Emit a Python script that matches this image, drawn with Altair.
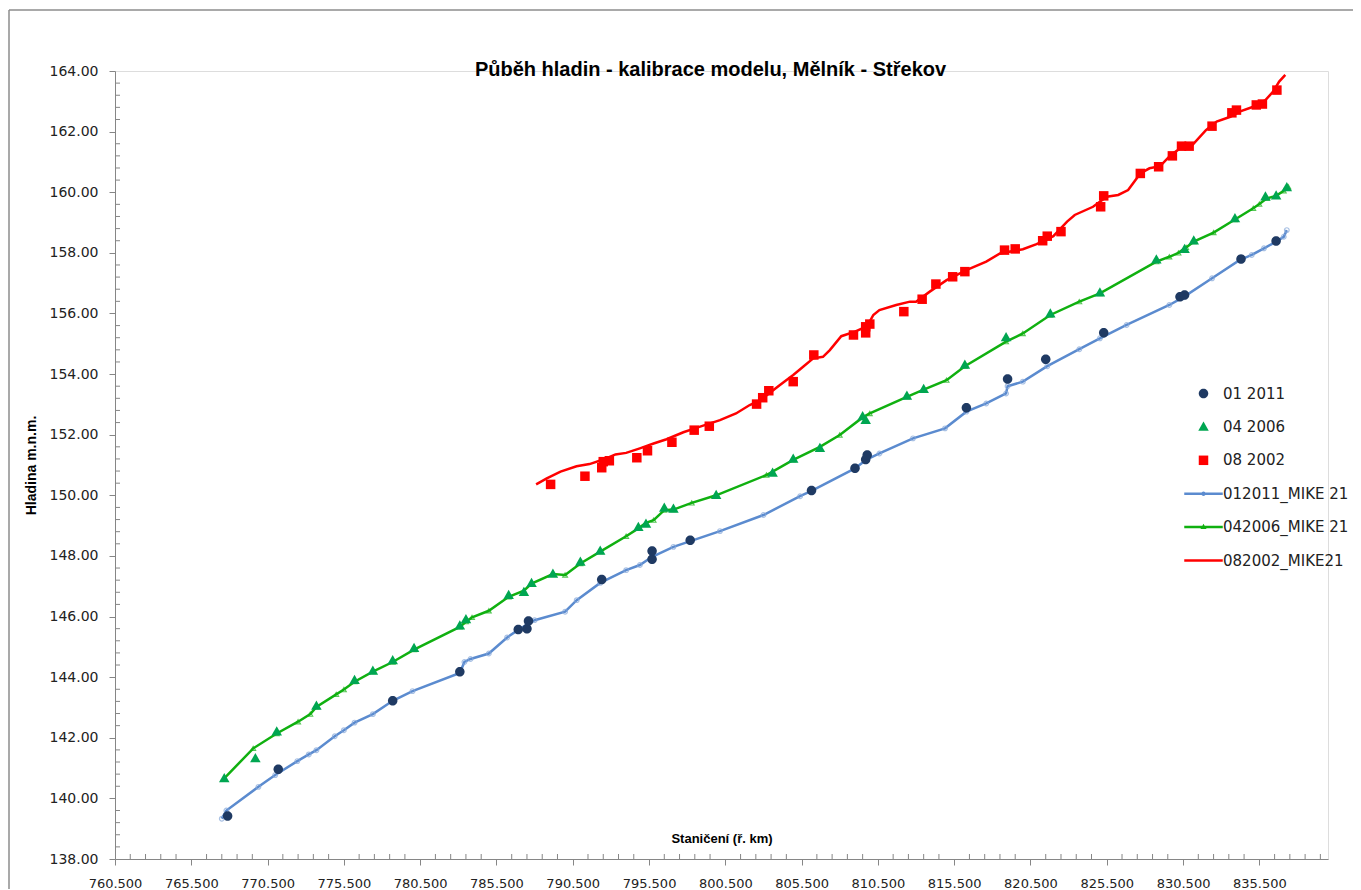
import altair as alt
import pandas as pd

# ---------------- data ----------------
series_names = ["01 2011", "04 2006", "08 2002", "012011_MIKE 21", "042006_MIKE 21", "082002_MIKE21"]
series_colors = ["#1F3A63", "#00A651", "#FF0000", "#5B8BCF", "#10B010", "#FF0000"]

# model 012011_MIKE 21
blue_km = [767.5, 767.8, 769.9, 771.0, 772.45, 773.2, 773.7, 774.9, 775.5, 776.2, 777.4, 778.7, 780.0,
           783.1, 783.4, 783.8, 785.0, 786.2, 786.9, 788.0, 790.0, 790.76, 792.3, 794.0, 794.9, 795.7,
           797.1, 800.15, 803.0, 805.4, 806.15, 809.0, 809.76, 810.6, 812.8, 814.9, 816.3, 817.6, 818.9,
           819.0, 820.0, 821.6, 823.7, 825.05, 826.8, 829.6, 830.5, 832.4, 834.2, 835.0, 835.8, 836.6,
           837.1, 837.3]
blue_h = [139.33, 139.6, 140.38, 140.77, 141.23, 141.45, 141.59, 142.05, 142.25, 142.5, 142.78, 143.22, 143.54,
          144.14, 144.5, 144.6, 144.78, 145.31, 145.55, 145.88, 146.16, 146.54, 147.11, 147.53, 147.7, 147.97,
          148.3, 148.82, 149.35, 149.97, 150.15, 150.89, 151.18, 151.38, 151.88, 152.21, 152.76, 153.03, 153.36,
          153.6, 153.75, 154.26, 154.82, 155.18, 155.62, 156.28, 156.53, 157.16, 157.76, 157.93, 158.15, 158.37,
          158.53, 158.75]

# model 042006_MIKE 21
green_km = [767.66, 769.56, 771.1, 772.5, 773.3, 773.7, 775.0, 775.5, 776.2, 777.4, 778.7, 780.1, 783.1,
            783.5, 783.9, 785.0, 786.3, 787.3, 787.8, 789.2, 790.0, 791.0, 792.3, 794.0, 794.8, 795.3, 795.8,
            796.5, 797.1, 798.3, 799.9, 803.2, 804.95, 806.7, 808.0, 809.5, 809.97, 812.4, 813.5, 815.0, 816.2,
            818.9, 820.0, 821.8, 823.7, 825.05, 828.75, 829.6, 830.2, 830.7, 831.2, 832.5, 833.9, 835.1, 835.5,
            836.0, 836.6, 837.1, 837.4]
green_h = [140.66, 141.65, 142.14, 142.53, 142.78, 143.02, 143.43, 143.59, 143.85, 144.18, 144.5, 144.91, 145.66,
           145.83, 145.97, 146.19, 146.65, 146.85, 147.09, 147.4, 147.37, 147.75, 148.14, 148.65, 148.91, 149.09, 149.18,
           149.51, 149.53, 149.75, 150.0, 150.67, 151.17, 151.6, 151.99, 152.57, 152.7, 153.25, 153.49, 153.8, 154.26,
           155.07, 155.34, 155.95, 156.39, 156.66, 157.71, 157.87, 158.0, 158.18, 158.37, 158.67, 159.1, 159.47, 159.61,
           159.8, 159.88, 160.05, 160.18]

# model 082002_MIKE21
red_km = [788.1, 788.8, 789.7, 790.75, 791.6, 792.5, 793.3, 794.0, 794.9, 795.8, 796.65, 797.75, 798.8, 800.15,
          801.2, 802.1, 802.8, 804.08, 804.95, 805.6, 806.26, 806.9, 807.35, 808.1, 809.0, 809.8, 810.2, 810.6,
          811.7, 812.6, 813.0, 813.9, 815.0, 816.3, 817.6, 818.5, 820.0, 820.9, 822.0, 822.9, 823.4, 824.6, 825.5,
          826.25, 826.9, 827.7, 828.3, 829.0, 829.7, 830.4, 831.05, 832.0, 832.7, 833.6, 834.2, 835.1, 835.9,
          836.4, 836.8, 837.2]
red_h = [150.36, 150.56, 150.78, 150.96, 151.03, 151.18, 151.35, 151.4, 151.55, 151.71, 151.85, 152.08, 152.26, 152.48,
         152.7, 152.98, 153.14, 153.64, 153.97, 154.24, 154.52, 154.57, 154.79, 155.25, 155.4, 155.58, 155.95, 156.11,
         156.28, 156.39, 156.39, 156.72, 157.1, 157.43, 157.71, 157.98, 158.12, 158.29, 158.55, 159.03, 159.25, 159.52,
         159.85, 159.91, 160.07, 160.62, 160.79, 160.86, 161.23, 161.48, 161.52, 162.05, 162.33, 162.49, 162.66, 162.82,
         163.04, 163.32, 163.65, 163.87]

# observed 01 2011
obs2011_km = [767.88, 771.2, 778.7, 783.1, 786.93, 787.5, 787.6, 792.4, 795.7, 795.7, 798.2, 806.15, 809.0,
              809.7, 809.8, 816.3, 819.0, 821.5, 825.3, 830.3, 830.6, 834.3, 836.6]
obs2011_h = [139.42, 140.96, 143.22, 144.18, 145.57, 145.6, 145.85, 147.22, 147.89, 148.16, 148.52, 150.16, 150.89,
             151.18, 151.33, 152.89, 153.84, 154.49, 155.36, 156.55, 156.61, 157.8, 158.39]

# observed 04 2006
obs2006_km = [767.66, 769.7, 771.1, 773.7, 776.2, 777.4, 778.7, 780.1, 783.1, 783.5, 786.3, 787.3, 787.8, 789.2,
              791.0, 792.3, 794.8, 795.3, 796.5, 797.1, 799.9, 803.6, 804.95, 806.7, 809.5, 809.7, 812.4, 813.5,
              816.2, 818.9, 821.8, 825.05, 828.75, 830.6, 831.2, 833.9, 835.9, 836.6, 837.3]
obs2006_h = [140.66, 141.32, 142.2, 143.05, 143.9, 144.2, 144.55, 144.95, 145.7, 145.9, 146.7, 146.8, 147.1, 147.4,
             147.8, 148.16, 148.95, 149.05, 149.58, 149.55, 150.0, 150.74, 151.2, 151.55, 152.6, 152.48, 153.28, 153.5,
             154.3, 155.21, 155.99, 156.68, 157.77, 158.12, 158.4, 159.13, 159.85, 159.88, 160.16]

# observed 08 2002
obs2002_km = [789.05, 791.3, 792.4, 792.5, 792.9, 794.7, 795.4, 797.0, 798.46, 799.45, 802.55, 802.95, 803.35,
              804.95, 806.3, 808.9, 809.7, 809.7, 809.97, 812.2, 813.4, 814.3, 815.4, 816.2, 818.8, 819.5, 821.3,
              821.6, 822.5, 825.1, 825.3, 827.7, 828.9, 829.8, 830.4, 830.9, 832.4, 833.7, 834.0, 835.3, 835.7, 836.65]
obs2002_h = [150.36, 150.63, 150.91, 151.11, 151.14, 151.24, 151.47, 151.75, 152.15, 152.28, 153.01, 153.22, 153.45,
             153.75, 154.63, 155.29, 155.36, 155.56, 155.65, 156.06, 156.47, 156.97, 157.21, 157.38, 158.09, 158.13, 158.4,
             158.55, 158.7, 159.52, 159.88, 160.62, 160.84, 161.2, 161.52, 161.52, 162.18, 162.62, 162.71, 162.88, 162.91,
             163.37]

x_major = [760.5 + 5 * i for i in range(16)]
x_minor = [760.5 + i for i in range(1, 80) if i % 5 != 0]
y_major = [138 + 2 * i for i in range(14)]
y_minor = [round(138 + 0.4 * i, 1) for i in range(1, 65) if i % 5 != 0]

# ---------------- frames ----------------
blue_df = pd.DataFrame({"km": blue_km, "h": blue_h})
green_df = pd.DataFrame({"km": green_km, "h": green_h})
red_df = pd.DataFrame({"km": red_km, "h": red_h})
obs_df = pd.concat([
    pd.DataFrame({"km": obs2011_km, "h": obs2011_h, "series": series_names[0]}),
    pd.DataFrame({"km": obs2006_km, "h": obs2006_h, "series": series_names[1]}),
    pd.DataFrame({"km": obs2002_km, "h": obs2002_h, "series": series_names[2]}),
], ignore_index=True)
xminor_df = pd.DataFrame({"km": x_minor})
yminor_df = pd.DataFrame({"h": y_minor})

W, H = 1213, 788
AX = "#868686"
BOLD_FONT = "'Liberation Sans Narrow', 'Arial Narrow', 'Liberation Sans', Arial, sans-serif"

# legend symbol paths (unit = sqrt(size)/2 px)
circ = "M0.95,0A0.95,0.95,0,1,1,-0.95,0A0.95,0.95,0,1,1,0.95,0Z"
tri = "M0,-1.1L1.05,0.75L-1.05,0.75Z"
sq = "M-0.95,-0.95H0.95V0.95H-0.95Z"
bar = "M-3.85,-0.25H3.85V0.25H-3.85Z"
small_c = "M0.45,0A0.45,0.45,0,1,1,-0.45,0A0.45,0.45,0,1,1,0.45,0Z"
small_t = "M0,-0.65L0.6,0.4L-0.6,0.4Z"
shapes = [circ, tri, sq, bar + small_c, bar + small_t, bar]

xscale = alt.Scale(domain=[760.5, 840], nice=False, zero=False)
yscale = alt.Scale(domain=[138, 164], nice=False, zero=False)

x_axis = alt.Axis(
    values=x_major, format=".3f", title="Staničení (ř. km)", grid=False,
    labelFont="DejaVu Sans", labelFontSize=13, labelColor="#222222", labelPadding=12,
    tickSize=6, tickColor=AX, domainColor=AX, labelFlush=False, labelOverlap=False,
    titleFont=BOLD_FONT, titleFontSize=13, titleFontWeight="bold", titleColor="black",
    titleY=-21, titleBaseline="middle")
y_axis = alt.Axis(
    values=y_major, format=".2f", title="Hladina  m.n.m.", grid=False,
    labelFont="DejaVu Sans", labelFontSize=14, labelColor="#222222", labelPadding=11,
    tickSize=6, tickColor=AX, domainColor=AX, labelFlush=False, labelOverlap=False,
    titleFont=BOLD_FONT, titleFontSize=14, titleFontWeight="bold", titleColor="black",
    titleX=-84, titleY=H / 2, titleAngle=-90, titleAlign="center", titleBaseline="middle")

xq = alt.X("km:Q", scale=xscale, axis=x_axis)
yq = alt.Y("h:Q", scale=yscale, axis=y_axis)

line_b = alt.Chart(blue_df).mark_line(color="#5B8BCF", strokeWidth=2.5).encode(x=xq, y=yq)
line_g = alt.Chart(green_df).mark_line(color="#10B010", strokeWidth=2.5).encode(x=xq, y=yq)
line_r = alt.Chart(red_df).mark_line(color="#FF0000", strokeWidth=2.5).encode(x=xq, y=yq)
mk_b = alt.Chart(blue_df).mark_point(shape="circle", filled=False, size=22, strokeWidth=1.2,
                                     color="#86A8DA").encode(x=xq, y=yq)
mk_g = alt.Chart(green_df).mark_point(shape="triangle-up", filled=False, size=24, strokeWidth=1.1,
                                      color="#10B010").encode(x=xq, y=yq)

obs_pts = alt.Chart(obs_df).mark_point(filled=True, opacity=1, size=100).encode(
    x=xq, y=yq,
    color=alt.Color("series:N", scale=alt.Scale(domain=series_names, range=series_colors),
                    legend=alt.Legend(title=None, orient="none", legendX=1081, legendY=315,
                                      symbolSize=100, symbolStrokeWidth=0, labelFont="DejaVu Sans",
                                      labelFontSize=15, labelColor="#222222", labelOffset=12,
                                      rowPadding=17.4, labelLimit=300)),
    shape=alt.Shape("series:N", scale=alt.Scale(domain=series_names, range=shapes)),
)

xticks = alt.Chart(xminor_df).mark_rule(color=AX, strokeWidth=1).encode(
    x=xq, y=alt.value(H), y2=alt.value(H - 5))
yticks = alt.Chart(yminor_df).mark_rule(color=AX, strokeWidth=1).encode(
    y=yq, x=alt.value(0), x2=alt.value(5))

one = pd.DataFrame({"a": [0]})
frame_left = alt.Chart(one).mark_rule(color="#8C8C8C", strokeWidth=1.5).encode(
    x=alt.value(-106), y=alt.value(-61), y2=alt.value(H + 40))
frame_top = alt.Chart(one).mark_rule(color="#8C8C8C", strokeWidth=1.5).encode(
    x=alt.value(-106), x2=alt.value(W + 40), y=alt.value(-61))

chart = alt.layer(frame_left, frame_top, xticks, yticks, line_b, line_g, line_r, mk_b, mk_g, obs_pts).properties(
    width=W, height=H,
    title=alt.TitleParams("Půběh hladin - kalibrace modelu, Mělník - Střekov",
                          font=BOLD_FONT, fontSize=20, fontWeight="bold", color="black",
                          anchor="middle", frame="group", offset=0, dx=-11, dy=71),
    autosize=alt.AutoSizeParams(type="none"),
    padding={"left": 107, "top": 63, "right": 25, "bottom": 30},
).configure_view(strokeWidth=0).configure(background="white")

chart.save("out.html", embed_options={"renderer": "svg", "actions": False})
